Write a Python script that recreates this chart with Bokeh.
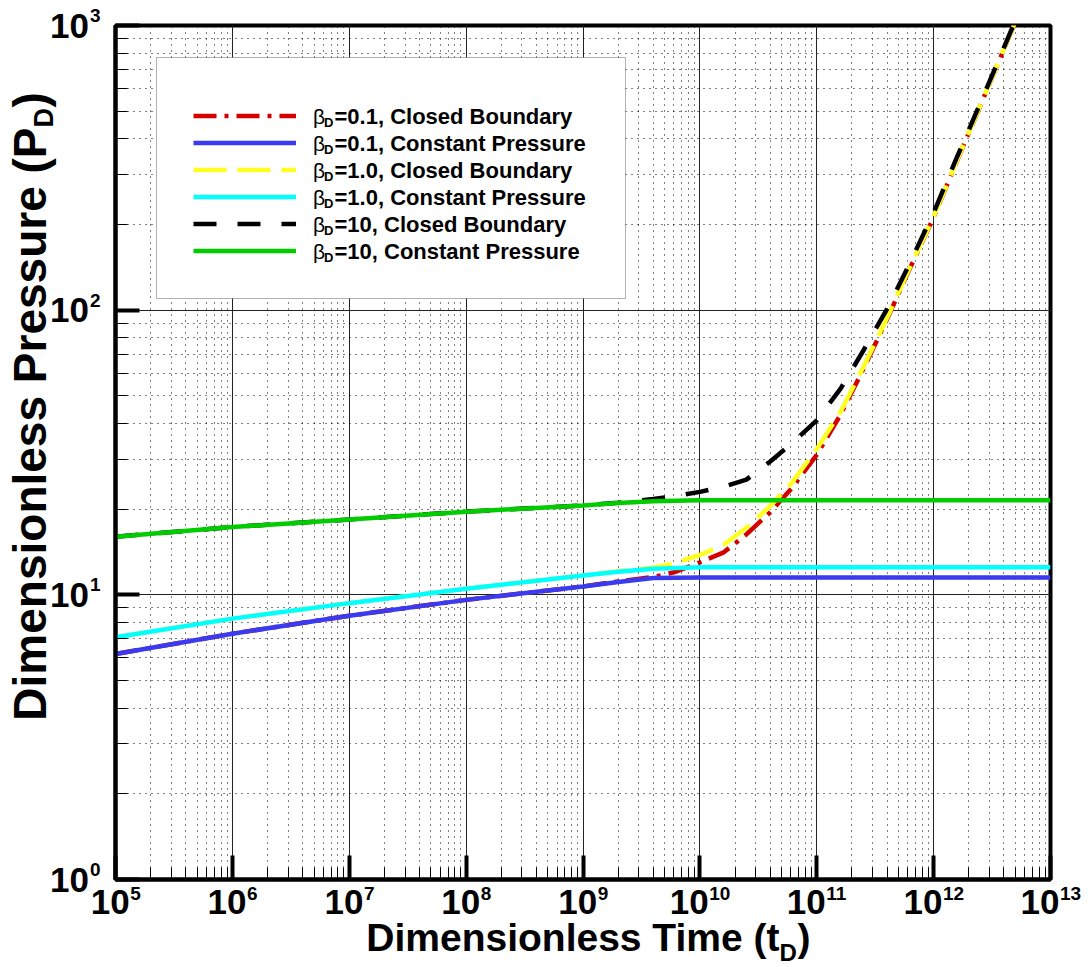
import math
from bokeh.plotting import figure
from bokeh.layouts import column, row
from bokeh.models import (Range1d, FixedTicker, Label, Legend, LegendItem,
                          BoxAnnotation)
from bokeh.embed import file_html
from bokeh.resources import INLINE

# ---------------- data ----------------
t_const = [1e5, 1e6, 1e7, 1e8, 1e9, 2e9, 4e9, 1e10, 1e11, 1e12, 1e13]
p_b01_const = [6.2, 7.3, 8.45, 9.6, 10.7, 11.1, 11.45, 11.5, 11.5, 11.5, 11.5]
p_b1_const = [7.1, 8.25, 9.35, 10.5, 11.7, 12.05, 12.35, 12.5, 12.5, 12.5, 12.5]
p_b10_const = [16.0, 17.3, 18.4, 19.6, 20.6, 21.0, 21.3, 21.5, 21.5, 21.5, 21.5]

t_closed = [1e5, 1e6, 1e7, 1e8, 1e9, 2e9, 4e9, 6e9, 1e10, 1.6e10, 2.5e10, 4e10,
            6e10, 1e11, 1.6e11, 2.5e11, 4e11, 6e11, 1e12, 1.6e12, 2.5e12, 4e12, 5e12]
p_b01_closed = [6.2, 7.3, 8.45, 9.6, 10.7, 11.15, 11.55, 12.0, 13.0, 14.1, 16.3, 19.5,
                23.5, 31.0, 43.0, 62.0, 93.0, 135.0, 212.0, 338.0, 521.0, 827.0, 1030.0]
p_b1_closed = [7.1, 8.25, 9.35, 10.5, 11.7, 12.1, 12.45, 12.9, 13.8, 15.0, 17.2, 20.5,
               24.5, 32.5, 44.0, 63.0, 94.0, 136.0, 213.0, 339.0, 522.0, 828.0, 1031.0]
p_b10_closed = [16.0, 17.3, 18.4, 19.6, 20.6, 21.05, 21.7, 22.2, 23.0, 24.0, 25.4, 29.4,
                33.8, 41.0, 53.0, 72.0, 101.0, 141.0, 220.0, 348.0, 532.0, 838.0, 1040.0]

x_decades = [5, 6, 7, 8, 9, 10, 11, 12, 13]
y_decades = [0, 1, 2, 3]

legend_beta = ["0.1", "0.1", "1.0", "1.0", "10", "10"]
legend_kind = ["Closed Boundary", "Constant Pressure", "Closed Boundary",
               "Constant Pressure", "Closed Boundary", "Constant Pressure"]

x_title = "Dimensionless Time (t"
y_title = "Dimensionless Pressure (P"

# ---------------- layout geometry (page pixels) ----------------
FONT = "Liberation Sans"
W, H = 1088, 967
FL, FR, FT, FB = 115, 1050, 25, 879   # frame edges
LW_STRIP = 89                         # left strip: y title + "10" of y ticks
E_W = 105 - LW_STRIP                  # small strip: y tick exponents
MAIN_X0 = LW_STRIP + E_W              # main figure starts here
MAIN_H = FB + 3                       # main figure height
XH = H - MAIN_H                       # bottom strip: x tick labels + x title
BLACK = "black"


def blank(width, height):
    f = figure(width=width, height=height, x_range=Range1d(0, width),
               y_range=Range1d(0, height), x_axis_location=None,
               y_axis_location=None, title_location=None,
               output_backend="svg", toolbar_location=None,
               min_border=0, min_border_left=0, min_border_right=0,
               min_border_top=0, min_border_bottom=0)
    f.title = None
    f.grid.visible = False
    f.outline_line_color = None
    f.background_fill_color = "white"
    f.border_fill_color = "white"
    return f


def lab(fig, x, y, text, size, bold=True, align="left", angle=0.0, font=FONT):
    fig.add_layout(Label(x=x, y=y, text=text, text_font=font, text_font_size=size,
                         text_font_style="bold" if bold else "normal",
                         text_color=BLACK, text_align=align, text_baseline="middle",
                         angle=angle))


# ---------------- main figure ----------------
p = figure(width=W - MAIN_X0, height=MAIN_H, x_axis_type="log", y_axis_type="log",
           x_range=Range1d(1e5, 1e13), y_range=Range1d(1, 1000),
           title_location=None, output_backend="svg", toolbar_location=None,
           min_border_left=FL - MAIN_X0, min_border_right=W - FR, min_border_top=FT,
           min_border_bottom=MAIN_H - FB)
p.title = None
p.background_fill_color = "white"
p.border_fill_color = "white"
p.outline_line_color = "black"
p.outline_line_width = 4

xt = FixedTicker(ticks=[10.0 ** d for d in x_decades],
                 minor_ticks=[k * 10.0 ** d for d in x_decades[:-1] for k in range(2, 10)])
yt = FixedTicker(ticks=[10.0 ** d for d in y_decades],
                 minor_ticks=[k * 10.0 ** d for d in y_decades[:-1] for k in range(2, 10)])
p.xaxis.ticker = xt
p.yaxis.ticker = yt
p.xgrid.ticker = xt
p.ygrid.ticker = yt

for ax in (p.xaxis[0], p.yaxis[0]):
    ax.axis_line_width = 4
    ax.axis_line_color = "black"
    ax.major_tick_in = 24
    ax.major_tick_out = 0
    ax.major_tick_line_width = 4
    ax.minor_tick_in = 12
    ax.minor_tick_out = 0
    ax.minor_tick_line_width = 1
    # tick labels are drawn in the side strips instead
    ax.major_label_text_font_size = "1px"
    ax.major_label_text_alpha = 0
    ax.major_label_standoff = 0

for g in (p.xgrid[0], p.ygrid[0]):
    g.grid_line_color = "#222222"
    g.grid_line_width = 1
    g.minor_grid_line_color = "black"
    g.minor_grid_line_width = 1
    g.minor_grid_line_dash = "1 5"

LW = 4.5
r_red = p.line(t_closed, p_b01_closed, line_color="#D40000", line_width=LW,
               line_dash="23 8 4 8")
r_yel = p.line(t_closed, p_b1_closed, line_color="#FFFF22", line_width=LW,
               line_dash="33 11")
r_blk = p.line(t_closed, p_b10_closed, line_color="black", line_width=LW,
               line_dash="23 21")
r_blu = p.line(t_const, p_b01_const, line_color="#3A3AF0", line_width=LW)
r_cya = p.line(t_const, p_b1_const, line_color="#00FFFF", line_width=LW)
r_grn = p.line(t_const, p_b10_const, line_color="#00CC00", line_width=LW)

# legend box (screen units are relative to the frame, y up)
box = BoxAnnotation(left=156 - FL, right=625 - FL, bottom=FB - 298, top=FB - 57,
                    left_units="screen", right_units="screen",
                    bottom_units="screen", top_units="screen",
                    fill_color="white", fill_alpha=1.0,
                    line_color="black", line_width=1)
p.add_layout(box)

renderers = [r_red, r_blu, r_yel, r_cya, r_blk, r_grn]
items = [LegendItem(label=" ", renderers=[r]) for r in renderers]
ROW = 27
first_center = 115.2
legend = Legend(items=items, location=(193 - FL, FB - (first_center + ROW * 5 + ROW / 2)),
                padding=0, margin=0, spacing=0, glyph_width=103, glyph_height=ROW,
                label_height=ROW, label_width=0, label_standoff=0,
                label_text_font_size="8px",
                background_fill_alpha=0, border_line_alpha=0)
p.add_layout(legend)

for i in range(6):
    cy = first_center + ROW * i
    for (xx, dy, txt, size, bold) in [
            (312.5, 0.5, "β", "21px", False),
            (323.5, 6.7, "D", "13px", True),
            (334.0, 0.5, "=" + legend_beta[i] + ", " + legend_kind[i], "22px", True)]:
        p.add_layout(Label(x=xx - FL, y=FB - (cy + dy), x_units="screen",
                           y_units="screen", text=txt, text_font=FONT,
                           text_font_size=size,
                           text_font_style="bold" if bold else "normal",
                           text_color=BLACK, text_baseline="middle",
                           text_align="left"))

Y_PER_DEC = (FB - FT) / (y_decades[-1] - y_decades[0])
X_PER_DEC = (FR - FL) / (x_decades[-1] - x_decades[0])

# ---------------- left strip: y title + "10" of the y tick labels ----------------
fl = blank(LW_STRIP, H)
ang = math.pi / 2
lab(fl, 29, H - 127, y_title, "46px", align="right", angle=ang)
lab(fl, 43.5, H - 127, "D", "27px", align="left", angle=ang)
lab(fl, 29, H - 107, ")", "46px", align="left", angle=ang)
for d in y_decades:
    cy = FB - (d - y_decades[0]) * Y_PER_DEC
    lab(fl, LW_STRIP - 0.5, H - cy, "10", "35px", align="right")

# ---------------- exponent strip for y tick labels ----------------
fe = blank(E_W, MAIN_H)
for d in y_decades:
    cy = FB - (d - y_decades[0]) * Y_PER_DEC
    lab(fe, 0.5, MAIN_H - (cy - 10), str(d), "19px", align="left")

# ---------------- bottom strip: x tick labels + x title ----------------
BW = W - LW_STRIP
fb = blank(BW, XH)
W10 = 0.556 * 2 * 35
WDIG = 0.556 * 19
for d in x_decades:
    cx = FL + (d - x_decades[0]) * X_PER_DEC - LW_STRIP
    split = cx + (W10 - WDIG * len(str(d))) / 2
    lab(fb, split, H - 901.5, "10", "35px", align="right")
    lab(fb, split + 0.5, H - 892.5, str(d), "19px", align="left")

lab(fb, 779 - LW_STRIP, H - 937, x_title, "39px", align="right")
lab(fb, 779 - LW_STRIP, H - 951.5, "D", "24px", align="left")
lab(fb, 797 - LW_STRIP, H - 937, ")", "39px", align="left")

# the exponent strip is wrapped in its own column so that its frame is not
# aligned with the main figure's frame
layout = row(fl, column(row(column(fe, spacing=0), p, spacing=0), fb, spacing=0),
             spacing=0)
open("out.html", "w").write(file_html(layout, INLINE))
